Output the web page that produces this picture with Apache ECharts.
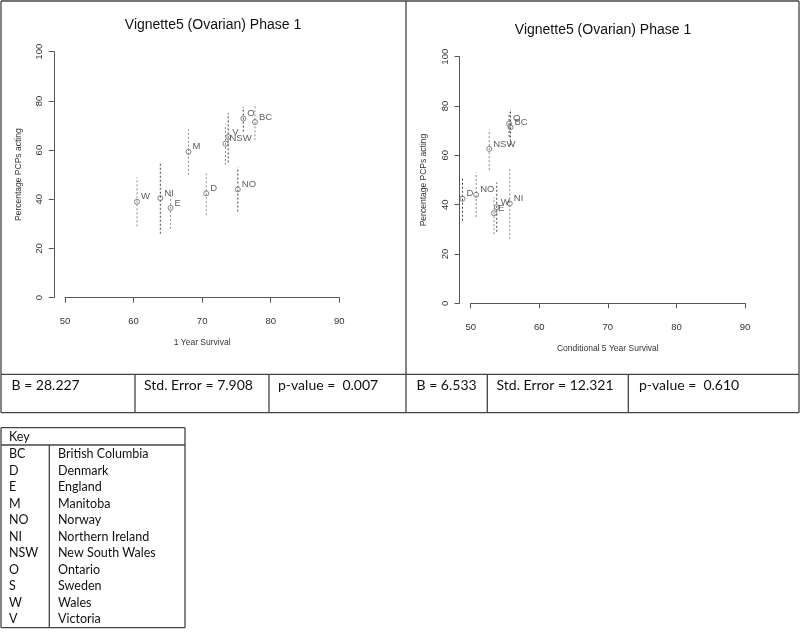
<!DOCTYPE html>
<html>
<head>
<meta charset="utf-8">
<script src="https://cdn.jsdelivr.net/npm/echarts@6/dist/echarts.min.js"></script>
<style>
html,body{margin:0;padding:0;background:#fff;}
#chart{width:800px;height:632px;}
</style>
</head>
<body>
<div id="chart"></div>
<script>
// ---------- data ----------
var chartTitle = 'Vignette5 (Ovarian) Phase 1';
var yAxisTitle = 'Percentage PCPs acting';
var xAxisTitle1 = '1 Year Survival';
var xAxisTitle2 = 'Conditional 5 Year Survival';

// y values (percentage PCPs acting) and interval bounds by country code
var codes = ['W', 'NI', 'E', 'M', 'D', 'NO', 'NSW', 'V', 'O', 'BC'];
var acting = [39.0, 40.5, 36.5, 59.3, 42.4, 44.0, 62.6, 65.3, 72.8, 71.4];
var actingLow = [29, 26, 28, 50, 33.5, 35, 54, 55, 67.5, 64];
var actingHigh = [49, 55, 43, 68.5, 50.5, 53, 70.5, 75, 77.5, 78.7];

// panel 1: 1 year survival
var codes1 = ['W', 'NI', 'E', 'M', 'D', 'NO', 'NSW', 'V', 'O', 'BC'];
var survival1 = [60.5, 63.9, 65.4, 68.0, 70.6, 75.2, 73.4, 73.8, 76.0, 77.7];

// panel 2: conditional 5 year survival
var codes2 = ['D', 'NO', 'NSW', 'E', 'W', 'NI', 'O', 'BC'];
var survival2 = [48.8, 50.8, 52.7, 53.4, 53.8, 55.7, 55.6, 55.8];

var xTicks = [50, 60, 70, 80, 90];
var yTicks = [0, 20, 40, 60, 80, 100];

var stats1 = ['B = 28.227', 'Std. Error = 7.908', 'p-value =  0.007'];
var stats2 = ['B = 6.533', 'Std. Error = 12.321', 'p-value =  0.610'];

var keyCodes = ['BC', 'D', 'E', 'M', 'NO', 'NI', 'NSW', 'O', 'S', 'W', 'V'];
var keyNames = ['British Columbia', 'Denmark', 'England', 'Manitoba', 'Norway',
  'Northern Ireland', 'New South Wales', 'Ontario', 'Sweden', 'Wales', 'Victoria'];

// ---------- styles ----------
var darkBar = '#444', lightBar = '#8a8a8a';
var barShade1 = {W: lightBar, NI: darkBar, E: lightBar, M: lightBar, D: lightBar, NO: darkBar, NSW: lightBar, V: darkBar, O: darkBar, BC: lightBar};
var barShade2 = {D: darkBar, NO: lightBar, NSW: lightBar, E: lightBar, W: darkBar, NI: lightBar, O: darkBar, BC: darkBar};

function rowsFor(cs, xs) {
  return cs.map(function (c, i) {
    var k = codes.indexOf(c);
    return [xs[i], acting[k], actingLow[k], actingHigh[k], c];
  });
}
var rows1 = rowsFor(codes1, survival1);
var rows2 = rowsFor(codes2, survival2);

var axisFont = 'Liberation Sans, Arial, Helvetica, sans-serif';
var axisColor = '#555';
var textColor = '#333';

function makeX(gi, name) {
  return {
    gridIndex: gi, type: 'value', min: xTicks[0], max: xTicks[xTicks.length - 1], interval: 10,
    offset: 9.7,
    axisLine: {show: true, lineStyle: {color: axisColor, width: 1}},
    axisTick: {show: true, length: 5, lineStyle: {color: axisColor}},
    axisLabel: {fontSize: 9.5, color: textColor, fontFamily: axisFont, margin: 9},
    splitLine: {show: false},
    name: name, nameLocation: 'middle', nameGap: 31,
    nameTextStyle: {fontSize: 8.5, color: textColor, fontFamily: axisFont}
  };
}
function makeY(gi) {
  return {
    gridIndex: gi, type: 'value', min: yTicks[0], max: yTicks[yTicks.length - 1], interval: 20,
    offset: 11.2,
    axisLine: {show: true, lineStyle: {color: axisColor, width: 1}},
    axisTick: {show: true, length: 5, lineStyle: {color: axisColor}},
    axisLabel: {fontSize: 9.5, color: textColor, fontFamily: axisFont, rotate: 90, margin: 9},
    splitLine: {show: false},
    name: yAxisTitle, nameLocation: 'middle', nameGap: 31,
    nameTextStyle: {fontSize: 8.5, color: textColor, fontFamily: axisFont}
  };
}

function barSeries(gi, rows, shade) {
  return {
    type: 'custom', xAxisIndex: gi, yAxisIndex: gi, clip: false, z: 2,
    data: rows.map(function (r) { return [r[0], r[2], r[3]]; }),
    encode: {x: 0, y: [1, 2]},
    renderItem: function (params, api) {
      var x = api.value(0);
      var p1 = api.coord([x, api.value(1)]);
      var p2 = api.coord([x, api.value(2)]);
      var code = rows[params.dataIndex][4];
      return {
        type: 'line',
        shape: {x1: p1[0], y1: p1[1], x2: p2[0], y2: p2[1]},
        style: {stroke: shade[code], lineWidth: 1, lineDash: [2, 2]}
      };
    }
  };
}
function pointSeries(gi, rows) {
  return {
    type: 'scatter', xAxisIndex: gi, yAxisIndex: gi, clip: false, z: 3,
    symbol: 'circle', symbolSize: 5,
    itemStyle: {color: 'rgba(255,255,255,0)', borderColor: '#666', borderWidth: 1},
    data: rows.map(function (r) { return [r[0], r[1], r[4]]; }),
    label: {
      show: true, position: 'right', distance: 1, offset: [0, -5],
      formatter: function (p) { return p.value[2]; },
      fontSize: 9.5, color: textColor, fontFamily: axisFont
    },
    emphasis: {disabled: true}
  };
}

// ---------- table & key graphics ----------
var lineCol = '#444';
var tableFont = 'Lato, Carlito, "Open Sans", sans-serif';
var g = [];
function ln(x1, y1, x2, y2, w) {
  g.push({type: 'line', shape: {x1: x1, y1: y1, x2: x2, y2: y2}, style: {stroke: lineCol, lineWidth: w || 1.3}, silent: true});
}
function tx(x, y, s, size) {
  g.push({type: 'text', x: x, y: y, style: {text: s, fontSize: size, fontFamily: tableFont, fill: '#111', textVerticalAlign: 'middle'}, silent: true});
}
// frame
ln(1, 1, 799, 1); ln(1, 1, 1, 412.7); ln(799, 1, 799, 412.7); ln(1, 412.7, 799, 412.7);
ln(406, 1, 406, 412.7);
ln(1, 374.3, 799, 374.3);
var seps = [135, 269, 487.3, 628.3];
seps.forEach(function (x) { ln(x, 374.3, x, 412.7); });
var cellStarts = [11.5, 144, 278, 416.5, 496.5, 639];
var allStats = stats1.concat(stats2);
allStats.forEach(function (s, i) { tx(cellStarts[i], 385.5, s, 14); });
// key
ln(1, 427.7, 185, 427.7); ln(1, 427.7, 1, 627.7); ln(185, 427.7, 185, 627.7); ln(1, 627.7, 185, 627.7);
ln(1, 445, 185, 445); ln(49.3, 445, 49.3, 627.7);
tx(9, 437, 'Key', 12.5);
keyCodes.forEach(function (c, i) {
  tx(9, 454.3 + i * 16.5, c, 12.5);
  tx(58, 454.3 + i * 16.5, keyNames[i], 12.5);
});

var chart = echarts.init(document.getElementById('chart'), null, {renderer: 'canvas'});
chart.setOption({
  animation: false,
  backgroundColor: '#fff',
  title: [
    {text: chartTitle, left: 208, top: 13, textAlign: 'center', textStyle: {fontSize: 14, fontWeight: 'normal', color: '#111', fontFamily: axisFont}},
    {text: chartTitle, left: 598, top: 18, textAlign: 'center', textStyle: {fontSize: 14, fontWeight: 'normal', color: '#111', fontFamily: axisFont}}
  ],
  grid: [
    {left: 65, top: 51.7, width: 274.3, height: 246},
    {left: 470.7, top: 56.7, width: 274.3, height: 246.6}
  ],
  xAxis: [makeX(0, xAxisTitle1), makeX(1, xAxisTitle2)],
  yAxis: [makeY(0), makeY(1)],
  series: [
    barSeries(0, rows1, barShade1), pointSeries(0, rows1),
    barSeries(1, rows2, barShade2), pointSeries(1, rows2)
  ],
  graphic: g
});
</script>
</body>
</html>
